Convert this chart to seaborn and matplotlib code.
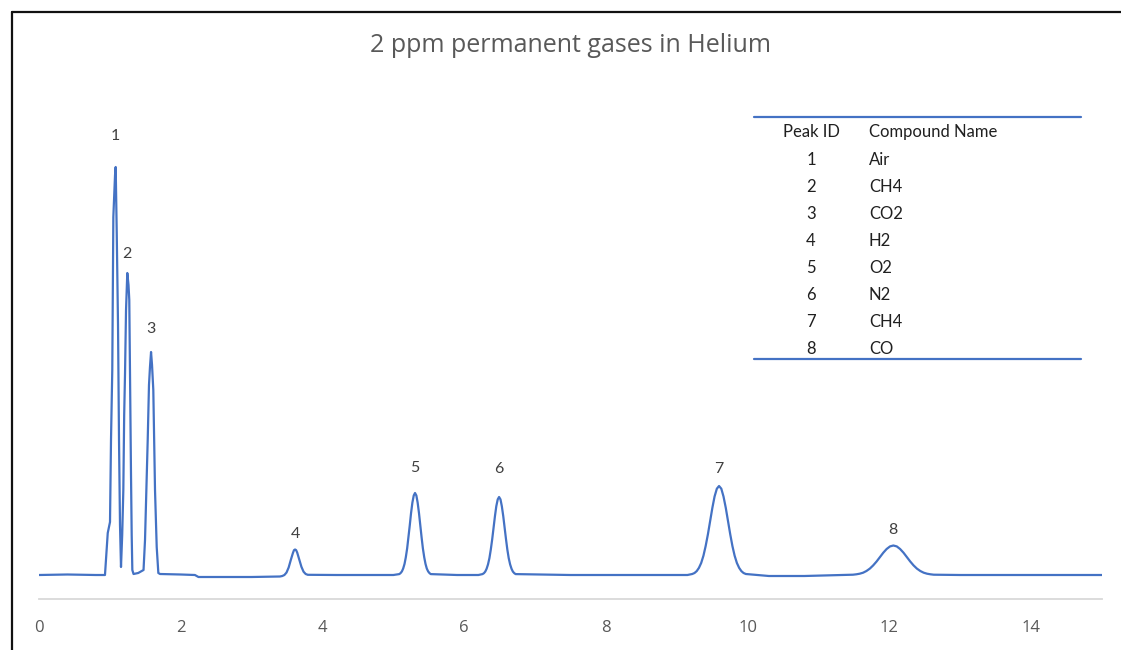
import matplotlib
matplotlib.use("Agg")
import matplotlib.pyplot as plt
import seaborn as sns
import pandas as pd
from matplotlib.lines import Line2D

# ---------------- data ----------------
chart_title = "2 ppm permanent gases in Helium"

time_min = [
    0.00, 0.40, 0.80, 0.931,
    0.970, 1.002, 1.016, 1.034, 1.049, 1.073, 1.082, 1.097, 1.115, 1.129, 1.143, 1.157,
    1.174, 1.190, 1.202, 1.214, 1.228, 1.246, 1.263, 1.274, 1.284, 1.293, 1.298, 1.308, 1.317, 1.334,
    1.400, 1.475, 1.496, 1.517, 1.534, 1.552, 1.566, 1.581, 1.595, 1.613, 1.626, 1.637, 1.661, 1.684, 1.708,
    2.00, 2.20, 2.25, 3.00, 3.40,
    3.433, 3.463, 3.493, 3.523, 3.553, 3.583, 3.598, 3.613, 3.628, 3.643, 3.673, 3.703, 3.733, 3.763, 3.793,
    4.20, 5.00,
    5.084, 5.102, 5.121, 5.139, 5.158, 5.176, 5.195, 5.213, 5.232, 5.250, 5.269, 5.288, 5.306,
    5.325, 5.343, 5.362, 5.380, 5.399, 5.417, 5.436, 5.454, 5.472, 5.491, 5.510, 5.528,
    5.90, 6.20,
    6.258, 6.278, 6.297, 6.316, 6.336, 6.356, 6.375, 6.395, 6.414, 6.434, 6.453, 6.473, 6.492,
    6.512, 6.531, 6.551, 6.570, 6.590, 6.609, 6.628, 6.648, 6.668, 6.687, 6.707, 6.726,
    7.50, 8.50, 9.15,
    9.218, 9.250, 9.281, 9.312, 9.344, 9.376, 9.407, 9.439, 9.470, 9.502, 9.533, 9.565, 9.596,
    9.628, 9.659, 9.691, 9.722, 9.754, 9.785, 9.816, 9.848, 9.880, 9.911, 9.942, 9.974,
    10.30, 10.80, 11.30,
    11.486, 11.534, 11.581, 11.629, 11.676, 11.724, 11.771, 11.819, 11.866, 11.914, 11.961, 12.009, 12.056,
    12.104, 12.151, 12.199, 12.246, 12.294, 12.341, 12.388, 12.436, 12.484, 12.531, 12.579, 12.626,
    13.00, 14.00, 15.00,
]
signal = [
    0.0, 0.5, 0.0, 0.0,
    42, 53, 135, 205, 358, 400, 408, 342, 250, 135, 50, 8,
    40, 85, 160, 202, 265, 302, 290, 275, 202, 140, 102, 40, 5, 1,
    2, 5, 35, 90, 135, 190, 208, 223, 210, 185, 130, 85, 28, 2, 1,
    0.5, 0.0, -2.0, -2.0, -1.5,
    -1.0, 0.0, 2.5, 7.5, 15.0, 22.0, 24.8, 25.5, 24.9, 22.5, 15.5, 8.2, 3.3, 1.0, 0.2,
    0.0, 0.0,
    0.9, 1.9, 3.6, 6.5, 11.1, 17.7, 26.6, 37.5, 49.7, 61.9, 72.4, 79.5, 82.0,
    79.5, 72.4, 61.9, 49.7, 37.5, 26.6, 17.7, 11.1, 6.5, 3.6, 1.9, 0.9,
    0.0, 0.0,
    0.9, 1.8, 3.4, 6.2, 10.6, 16.9, 25.3, 35.7, 47.3, 58.9, 68.8, 75.6, 78.0,
    75.6, 68.8, 58.9, 47.3, 35.7, 25.3, 16.9, 10.6, 6.2, 3.4, 1.8, 0.9,
    0.0, 0.0, 0.0,
    1.0, 2.0, 3.9, 7.1, 12.0, 19.3, 28.9, 40.7, 54.0, 67.2, 78.5, 86.3, 89.0,
    86.3, 78.5, 67.2, 54.0, 40.7, 28.9, 19.3, 12.0, 7.1, 3.9, 2.0, 1.0,
    -1.0, -1.0, 0.0,
    0.3, 0.7, 1.3, 2.3, 4.0, 6.4, 9.6, 13.5, 17.9, 22.3, 26.0, 28.6, 29.5,
    28.6, 26.0, 22.3, 17.9, 13.5, 9.6, 6.4, 4.0, 2.3, 1.3, 0.7, 0.3,
    0.0, 0.0, 0.0,
]

peak_ids = ["1", "2", "3", "4", "5", "6", "7", "8"]
peak_rt = [1.082, 1.246, 1.581, 3.613, 5.306, 6.492, 9.596, 12.056]
peak_apex = [408, 302, 223, 25.5, 82, 78, 89, 29.5]
compound_names = ["Air", "CH4", "CO2", "H2", "O2", "N2", "CH4", "CO"]
table_headers = ["Peak ID", "Compound Name"]
x_ticks = [0, 2, 4, 6, 8, 10, 12, 14]

# ---------------- styling / layout ----------------
W, H = 1121, 650
label_offsets_pt = [22, 14, 16.5, 11.5, 18, 20, 12, 11.5]
TRACE = "#4472C4"
GREY = "#595959"
DARK = "#404040"
TABLE_FS = 12

sns.set_theme(style="white")
plt.rcParams["font.family"] = ["Lato", "DejaVu Sans"]

fig = plt.figure(figsize=(W / 100, H / 100), dpi=100)
fig.patch.set_facecolor("white")
ax = fig.add_axes([39 / W, 1 - 599 / H, (1102 - 39) / W, (599 - 90) / H])

df = pd.DataFrame({"time": time_min, "signal": signal})
sns.lineplot(data=df, x="time", y="signal", ax=ax, color=TRACE, linewidth=1.6,
             sort=False, estimator=None)

ax.set_xlim(0, 15)
ax.set_ylim(-24, 485)
ax.set_xticks(x_ticks)
ax.set_xticklabels([str(t) for t in x_ticks])
ax.set_yticks([])
ax.set_xlabel("")
ax.set_ylabel("")
for s in ["top", "left", "right"]:
    ax.spines[s].set_visible(False)
ax.spines["bottom"].set_color("#d9d9d9")
ax.spines["bottom"].set_linewidth(1.3)
ax.tick_params(axis="x", length=0, pad=15, labelsize=12, labelcolor=GREY)
for lab in ax.get_xticklabels():
    lab.set_family(["Open Sans", "DejaVu Sans"])
ax.set_facecolor("white")

# peak number labels
for pid, rt, ap, off in zip(peak_ids, peak_rt, peak_apex, label_offsets_pt):
    ax.annotate(pid, xy=(rt, ap), xytext=(0, off), textcoords="offset points",
                ha="center", va="center", fontsize=11.5, color=DARK)

# title
fig.text(571 / W, 1 - 45 / H, chart_title, ha="center", va="center",
         fontsize=18, color=GREY, family=["Open Sans", "DejaVu Sans"])

# compound table
fig.add_artist(Line2D([754 / W, 1081 / W], [1 - 117 / H] * 2, color=TRACE, lw=1.6,
                      transform=fig.transFigure))
fig.add_artist(Line2D([754 / W, 1081 / W], [1 - 359 / H] * 2, color=TRACE, lw=1.6,
                      transform=fig.transFigure))
fig.text(811 / W, 1 - 132 / H, table_headers[0], ha="center", va="center",
         fontsize=TABLE_FS, color="#202020")
fig.text(869 / W, 1 - 132 / H, table_headers[1], ha="left", va="center",
         fontsize=TABLE_FS, color="#202020")
for i, (pid, name) in enumerate(zip(peak_ids, compound_names)):
    yy = 1 - (160 + 27 * i) / H
    fig.text(811 / W, yy, pid, ha="center", va="center", fontsize=TABLE_FS, color="#202020")
    fig.text(869 / W, yy, name, ha="left", va="center", fontsize=TABLE_FS, color="#202020")

# frame border (left and top edges of the chart area)
fig.add_artist(Line2D([11.8 / W, 11.8 / W], [0, 1 - 11.8 / H], color="#111111", lw=1.6,
                      transform=fig.transFigure))
fig.add_artist(Line2D([11.8 / W, 1], [1 - 11.8 / H] * 2, color="#111111", lw=1.6,
                      transform=fig.transFigure))

fig.savefig("out.png", dpi=100, facecolor="white")
